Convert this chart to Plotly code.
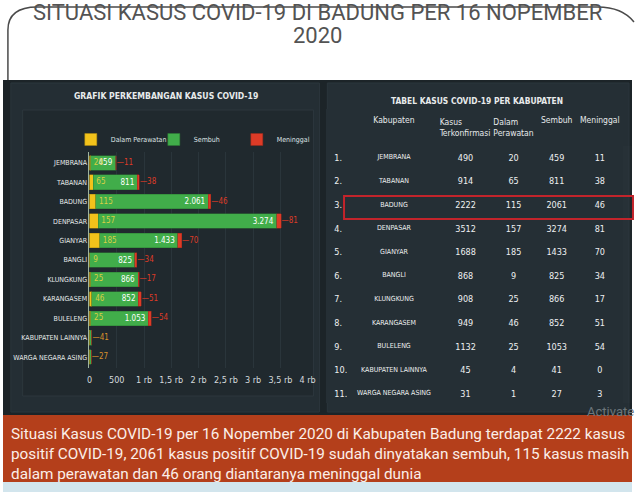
import plotly.graph_objects as go

W, H = 640, 492

# ---------------- data ----------------
kabupaten = ["JEMBRANA", "TABANAN", "BADUNG", "DENPASAR", "GIANYAR", "BANGLI",
             "KLUNGKUNG", "KARANGASEM", "BULELENG", "KABUPATEN LAINNYA", "WARGA NEGARA ASING"]
terkonfirmasi = [490, 914, 2222, 3512, 1688, 868, 908, 949, 1132, 45, 31]
perawatan = [20, 65, 115, 157, 185, 9, 25, 46, 25, 4, 1]
sembuh = [459, 811, 2061, 3274, 1433, 825, 866, 852, 1053, 41, 27]
meninggal = [11, 38, 46, 81, 70, 34, 17, 51, 54, 0, 3]

tick_vals = [0, 500, 1000, 1500, 2000, 2500, 3000, 3500, 4000]
tick_text = ["0", "500", "1 rb", "1,5 rb", "2 rb", "2,5 rb", "3 rb", "3,5 rb", "4 rb"]

title_line1 = "SITUASI KASUS COVID-19 DI BADUNG PER 16 NOPEMBER"
title_line2 = "2020"
caption = ("Situasi Kasus COVID-19 per 16 Nopember 2020 di Kabupaten Badung terdapat 2222 kasus<br>"
           "positif COVID-19, 2061 kasus positif COVID-19 sudah dinyatakan sembuh, 115 kasus masih<br>"
           "dalam perawatan dan 46 orang diantaranya meninggal dunia")

NARROW = "DejaVu Sans Condensed, Liberation Sans Narrow, Roboto, sans-serif"

def px(x):
    return x / W

def py(y):
    return 1 - y / H

fig = go.Figure()

C_YEL = "#f2c21b"
C_GRN = "#41ad4a"
C_RED = "#dd3b27"

fig.add_trace(go.Bar(y=kabupaten, x=perawatan, orientation="h", name="Dalam Perawatan",
                     marker=dict(color=C_YEL, line=dict(color="#b08c10", width=0.5)),
                     hoverinfo="x+name"))
sembuh_text = [f"{v:,}".replace(",", ".") if v > 200 else "" for v in sembuh]
fig.add_trace(go.Bar(y=kabupaten, x=sembuh, orientation="h", name="Sembuh",
                     marker=dict(color=C_GRN, line=dict(color="#2d7d34", width=0.5)),
                     text=sembuh_text, textposition="inside", insidetextanchor="end",
                     textfont=dict(color="white", size=8, family=NARROW),
                     constraintext="none", hoverinfo="x+name"))
fig.add_trace(go.Bar(y=kabupaten, x=meninggal, orientation="h", name="Meninggal",
                     marker=dict(color=C_RED, line=dict(color="#9c2a1b", width=0.5)),
                     hoverinfo="x+name"))

# perawatan labels inside the green bar (yellow)
big = [i for i, v in enumerate(sembuh) if v > 200]
fig.add_trace(go.Scatter(y=[kabupaten[i] for i in big],
                         x=[perawatan[i] + 60 for i in big],
                         text=[str(perawatan[i]) for i in big], mode="text",
                         textposition="middle right",
                         textfont=dict(color="#d9cf45", size=8, family=NARROW),
                         showlegend=False, hoverinfo="skip"))
# meninggal labels outside
totals = [p + s + m for p, s, m in zip(perawatan, sembuh, meninggal)]
side_text = ["—" + str(meninggal[i]) if i in big else "—" + str(sembuh[i]) for i in range(len(kabupaten))]
side_col = [C_RED if i in big else "#d8902c" for i in range(len(kabupaten))]
fig.add_trace(go.Scatter(y=kabupaten, x=[t + 10 for t in totals], text=side_text, mode="text",
                         textposition="middle right",
                         textfont=dict(color=side_col, size=8, family=NARROW),
                         showlegend=False, hoverinfo="skip"))

# ---------------- table ----------------
nums = [f"{i + 1}." for i in range(len(kabupaten))]
fig.add_trace(go.Table(
    domain=dict(x=[px(329), px(631)], y=[py(403), py(109)]),
    columnwidth=[22, 94, 52, 46, 42, 46],
    header=dict(values=["", "Kabupaten", "Kasus<br>Terkonfirmasi", "Dalam<br>Perawatan", "Sembuh", "Meninggal"],
                fill_color="#252f35", line_color="#252f35", align=["left", "center"],
                font=dict(color="#e6e9ea", size=8.5, family=NARROW), height=31),
    cells=dict(values=[nums, kabupaten, terkonfirmasi, perawatan, sembuh, meninggal],
               fill_color="#252f35", line_color="#252f35", align=["left", "center"],
               font=dict(color="#eef0f1", size=[9, 7, 9, 9, 9, 9], family=NARROW), height=23.6),
))

shapes = []
# top outline
shapes.append(dict(type="path", xref="paper", yref="paper",
                   path=f"M {px(5)},{py(82)} L {px(5)},{py(30)} Q {px(5)},{py(7)} {px(35)},{py(7)} "
                        f"L {px(605)},{py(7)} Q {px(630)},{py(7)} {px(642)},{py(22)}",
                   line=dict(color="#4a4a4a", width=1.5), layer="below"))
# dark background
shapes.append(dict(type="rect", xref="paper", yref="paper", x0=0, x1=1, y0=py(416), y1=py(80),
                   fillcolor="#1c2428", line_width=0, layer="below"))
# panels
shapes.append(dict(type="rect", xref="paper", yref="paper", x0=px(8), x1=px(322), y0=py(412), y1=py(83),
                   fillcolor="#242e34", line=dict(color="#2b363c", width=1), layer="below"))
shapes.append(dict(type="rect", xref="paper", yref="paper", x0=px(330), x1=px(637), y0=py(412), y1=py(83),
                   fillcolor="#252f35", line=dict(color="#2b363c", width=1), layer="below"))
shapes.append(dict(type="rect", xref="paper", yref="paper", x0=px(20), x1=px(316), y0=py(396), y1=py(110),
                   fillcolor="#20292e", line=dict(color="#2c373d", width=1), layer="below"))
# caption box
shapes.append(dict(type="rect", xref="paper", yref="paper", x0=0, x1=1, y0=py(482), y1=py(415),
                   fillcolor="#b43f1b", line_width=0, layer="above"))
shapes.append(dict(type="rect", xref="paper", yref="paper", x0=0, x1=1, y0=0, y1=py(482),
                   fillcolor="#d2e5ed", line_width=0, layer="above"))
# highlight of Badung row
shapes.append(dict(type="rect", xref="paper", yref="paper", x0=px(347), x1=px(641), y0=py(219), y1=py(196),
                   fillcolor="rgba(0,0,0,0)", line=dict(color="#c3242b", width=2), layer="above"))

annotations = [
    dict(text=title_line1, x=0.5, y=py(13), xref="paper", yref="paper", xanchor="center", yanchor="middle",
         showarrow=False, font=dict(color="#535353", size=22, family="Roboto, sans-serif")),
    dict(text=title_line2, x=0.5, y=py(36), xref="paper", yref="paper", xanchor="center", yanchor="middle",
         showarrow=False, font=dict(color="#535353", size=22, family="Roboto, sans-serif")),
    dict(text="<b>GRAFIK PERKEMBANGAN KASUS COVID-19</b>", x=px(166), y=py(96), xref="paper", yref="paper",
         xanchor="center", yanchor="middle", showarrow=False,
         font=dict(color="#e8ebec", size=8.6, family=NARROW)),
    dict(text="<b>TABEL KASUS COVID-19 PER KABUPATEN</b>", x=px(482), y=py(101), xref="paper", yref="paper",
         xanchor="center", yanchor="middle", showarrow=False,
         font=dict(color="#e8ebec", size=8.4, family=NARROW)),
    dict(text="Activate", x=px(592), y=py(411), xref="paper", yref="paper", xanchor="left", yanchor="middle",
         showarrow=False, font=dict(color="#6d767b", size=13, family="Roboto, sans-serif")),
    dict(text=caption, x=px(6), y=py(454), xref="paper", yref="paper", xanchor="left", yanchor="middle",
         align="left", showarrow=False,
         font=dict(color="#fbeee8", size=15.3, family="Roboto, sans-serif")),
]

fig.update_layout(
    width=W, height=H, margin=dict(l=0, r=0, t=0, b=0),
    paper_bgcolor="white", plot_bgcolor="rgba(0,0,0,0)",
    barmode="stack", bargap=0.25,
    shapes=shapes, annotations=annotations,
    showlegend=True,
    legend=dict(orientation="h", x=px(69), y=py(125), xanchor="left", yanchor="top",
                font=dict(color="#dfe3e5", size=7, family=NARROW), bgcolor="rgba(0,0,0,0)",
                itemwidth=30, entrywidth=38, entrywidthmode="pixels", traceorder="normal"),
    xaxis=dict(domain=[px(88), px(310)], range=[0, 4000], tickvals=tick_vals, ticktext=tick_text,
               showgrid=True, gridcolor="#2a353b", zeroline=False, anchor="y",
               tickfont=dict(color="#d5dadc", size=9, family=NARROW), ticklen=0,
               ticklabelstandoff=5, fixedrange=True),
    yaxis=dict(domain=[py(368), py(152)], autorange="reversed", showline=True, linecolor="#9fb59f",
               linewidth=1, tickfont=dict(color="#e6e9ea", size=7, family=NARROW), ticklen=0,
               ticks="", fixedrange=True),
)

fig.write_html("out.html")
